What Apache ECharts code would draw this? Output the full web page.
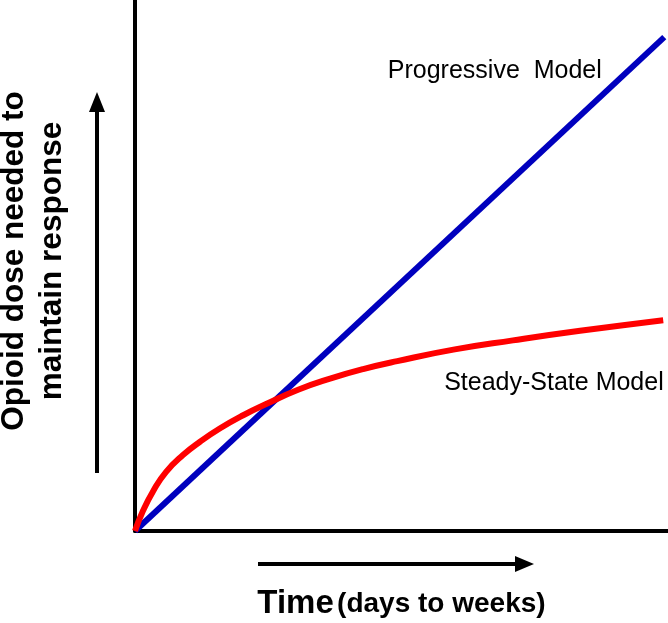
<!DOCTYPE html>
<html>
<head>
<meta charset="utf-8">
<script src="https://cdn.jsdelivr.net/npm/echarts@6/dist/echarts.min.js"></script>
<style>
  html, body { margin: 0; padding: 0; background: #fff; }
  #chart { width: 668px; height: 623px; }
</style>
</head>
<body>
<div id="chart"></div>
<script>
// Progressive model: straight rise
const progressiveModel = [[0, 0], [99.3, 93]];
// Steady-state model: fast rise, then levels off
const steadyStateModel = [
  [0, 0], [1.5, 3.8], [3.4, 7.5], [5.8, 11.1], [9.0, 14.3], [12.2, 16.8],
  [15.9, 19.3], [20.3, 21.8], [24.6, 23.9], [30.6, 26.6], [36.6, 28.7],
  [42.8, 30.5], [49.2, 32.0], [60.0, 34.2], [70.9, 35.9], [83.5, 37.7],
  [99.1, 39.7]
];
// where the two curve labels sit (data coords)
const progressiveLabelAt = [67.5, 86.6];
const steadyLabelAt = [78.6, 27.9];

const FONT = '"Liberation Sans", Arial, sans-serif';

const chart = echarts.init(document.getElementById('chart'));

const axisBase = {
  type: 'value',
  min: 0,
  max: 100,
  axisLine: { show: true, lineStyle: { color: '#000', width: 4 } },
  axisTick: { show: false },
  axisLabel: { show: false },
  splitLine: { show: false }
};

const curveLabel = (text, coord) => ({
  silent: true,
  symbol: 'circle',
  symbolSize: 1,
  itemStyle: { color: 'rgba(0,0,0,0)' },
  data: [{
    coord,
    label: {
      show: true,
      formatter: text,
      position: 'inside',
      color: '#000',
      fontFamily: FONT,
      fontSize: 25
    }
  }]
});

chart.setOption({
  animation: false,
  grid: { left: 135, right: 0, top: 0, bottom: 92, outerBoundsMode: 'none', containLabel: false },
  xAxis: {
    ...axisBase,
    name: '{big|Time} {small|(days to weeks)}',
    nameLocation: 'middle',
    nameGap: 56,
    nameTextStyle: {
      rich: {
        big: { fontFamily: FONT, fontWeight: 'bold', fontSize: 33, lineHeight: 34, color: '#000' },
        small: { fontFamily: FONT, fontWeight: 'bold', fontSize: 28, lineHeight: 34, color: '#000' }
      }
    }
  },
  yAxis: {
    ...axisBase,
    name: 'Opioid dose needed to\nmaintain response',
    nameLocation: 'middle',
    nameGap: 64,
    nameTextStyle: {
      fontFamily: FONT,
      fontWeight: 'bold',
      fontSize: 31.5,
      lineHeight: 38,
      color: '#000',
      padding: [0, 0, 0, 9]
    }
  },
  series: [
    {
      name: 'Progressive Model',
      type: 'line',
      data: progressiveModel,
      symbol: 'none',
      lineStyle: { color: '#0000be', width: 6 },
      markPoint: curveLabel('Progressive  Model', progressiveLabelAt)
    },
    {
      name: 'Steady-State Model',
      type: 'line',
      data: steadyStateModel,
      smooth: 0.5,
      symbol: 'none',
      lineStyle: { color: '#ff0000', width: 6 },
      markPoint: curveLabel('Steady-State Model', steadyLabelAt)
    }
  ],
  graphic: [
    // vertical arrow beside the y label
    { type: 'line', shape: { x1: 97, y1: 473, x2: 97, y2: 110 }, style: { stroke: '#000', lineWidth: 4 } },
    { type: 'polygon', shape: { points: [[89, 112], [105, 112], [97, 92]] }, style: { fill: '#000' } },
    // horizontal arrow above the x label
    { type: 'line', shape: { x1: 258, y1: 564, x2: 517, y2: 564 }, style: { stroke: '#000', lineWidth: 4 } },
    { type: 'polygon', shape: { points: [[515, 556], [515, 572], [534, 564]] }, style: { fill: '#000' } }
  ]
});
</script>
</body>
</html>
